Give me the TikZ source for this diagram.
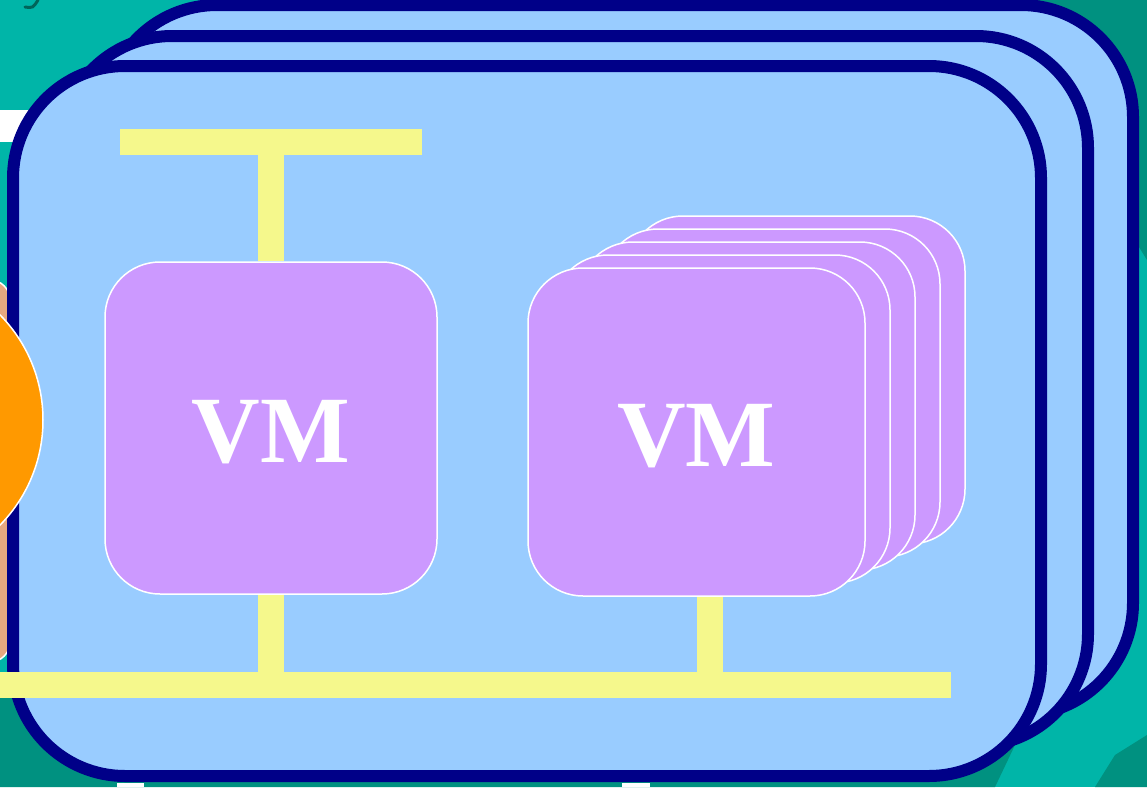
\documentclass[tikz,border=0pt]{standalone}
\usepackage{fontspec}
\setmainfont{Liberation Serif}
\usetikzlibrary{positioning}
\definecolor{sea}{RGB}{0,181,168}
\definecolor{deepsea}{RGB}{0,145,128}
\definecolor{boardblue}{RGB}{153,204,255}
\definecolor{boardline}{RGB}{0,0,136}
\definecolor{vmpurple}{RGB}{204,153,255}
\definecolor{busyellow}{RGB}{245,248,140}
\definecolor{salmon}{RGB}{229,168,128}
\definecolor{hostorange}{RGB}{255,153,0}
\tikzset{
  host board/.style={rectangle,draw=boardline,fill=boardblue,line width=12pt,
    rounded corners=112pt,minimum width=1028pt,minimum height=710pt},
  vm box/.style={rectangle,draw=white,fill=vmpurple,line width=1.5pt,
    rounded corners=55pt,inner sep=0pt,text=white,text height=71pt,
    font=\bfseries\fontsize{95}{95}\selectfont},
  vm card/.style={vm box,minimum width=337pt,minimum height=328pt},
  bus bar/.style={rectangle,fill=busyellow,inner sep=0pt,minimum height=26pt},
  bus stem/.style={draw=busyellow,line width=26pt}
}

\begin{document}
\begin{tikzpicture}[x=1pt,y=-1pt]
  \path[use as bounding box,clip] (0,0) rectangle (1147,787);
  % backdrop
  \fill[sea] (0,0) rectangle (1147,787);
  \fill[deepsea] (980,0) -- (1147,0) -- (1147,260) -- (1110,200) -- cycle;
  \fill[deepsea] (0,690) -- (1000,690) -- (1015,745) -- (995,787) -- (0,787) -- cycle;
  \fill[deepsea] (1095,787) -- (1115,755) -- (1147,735) -- (1147,787) -- cycle;
  \draw[deepsea!70!black,line width=3pt,line cap=round] (25,7) .. controls (33,8) .. (38,0);
  \fill[white] (0,110) rectangle (30,142);
  \fill[white] (117,783) rectangle (144,787);
  \fill[white] (622,783) rectangle (650,787);
  % neighbour host on the left
  \node[rectangle,draw=white,fill=salmon,line width=1.5pt,rounded corners=20pt,
    minimum width=110pt,minimum height=382pt] (lefthost) at (-45,471) {};
  % three stacked hosts
  \node[host board] (backboard) at (619,360) {};
  \node[host board] (midboard) at (574,391) {};
  \node[host board] (frontboard) at (527,421) {};
  \node[circle,draw=white,fill=hostorange,line width=1.5pt,
    minimum size=300pt] (leftdisk) at (-107,420) {};
  % network bars
  \node[bus bar,minimum width=302pt] (topbus) at (271,141.5) {};
  \node[bus bar,minimum width=971pt] (lanbus) at (465.5,685) {};
  % virtual machines
  \node[vm box,minimum width=332pt,minimum height=332pt] (vmone) at (271,428) {VM};
  \foreach \k in {4,3,2,1}
    \node[vm card] (vmcopy\k) at (696.5+25*\k,432-13*\k) {};
  \node[vm card] (vmtwo) at (696.5,432) {VM};
  \draw[bus stem] (topbus.south) -- (vmone.north);
  \draw[bus stem] (vmone.south) -- (vmone.south |- lanbus.north);
  \draw[bus stem] ([xshift=13pt]vmtwo.south) -- ([xshift=13pt]vmtwo.south |- lanbus.north);
\end{tikzpicture}
\end{document}
